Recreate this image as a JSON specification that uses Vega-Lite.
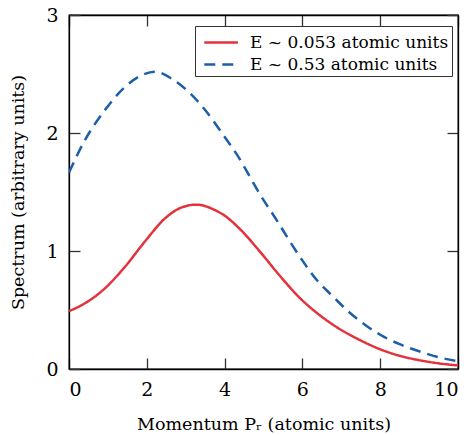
{
  "$schema": "https://vega.github.io/schema/vega-lite/v6.json",
  "width": 389,
  "height": 354,
  "autosize": {"type": "none"},
  "padding": {"left": 69, "top": 15, "right": 12, "bottom": 66},
  "background": "white",
  "config": {
    "font": "DejaVu Serif",
    "view": {"stroke": "black", "strokeWidth": 1.3},
    "axis": {"grid": false, "domainColor": "black", "domainWidth": 1.3, "tickColor": "#333", "tickWidth": 1.3, "tickSize": -11, "labelFont": "DejaVu Serif", "labelFontSize": 19, "labelColor": "black", "titleFont": "DejaVu Serif", "titleFontSize": 17.5, "titleFontWeight": "normal", "titleColor": "black", "labelPadding": 22}
  },
  "data": {"values": [
    {"p": 0, "s": 0.49, "series": "E ~ 0.053 atomic units"},
    {"p": 0.41, "s": 0.557, "series": "E ~ 0.053 atomic units"},
    {"p": 0.925, "s": 0.684, "series": "E ~ 0.053 atomic units"},
    {"p": 1.44, "s": 0.867, "series": "E ~ 0.053 atomic units"},
    {"p": 1.95, "s": 1.08, "series": "E ~ 0.053 atomic units"},
    {"p": 2.47, "s": 1.277, "series": "E ~ 0.053 atomic units"},
    {"p": 2.9, "s": 1.37, "series": "E ~ 0.053 atomic units"},
    {"p": 3.28, "s": 1.393, "series": "E ~ 0.053 atomic units"},
    {"p": 3.75, "s": 1.347, "series": "E ~ 0.053 atomic units"},
    {"p": 4.0, "s": 1.3, "series": "E ~ 0.053 atomic units"},
    {"p": 4.4, "s": 1.184, "series": "E ~ 0.053 atomic units"},
    {"p": 4.91, "s": 0.994, "series": "E ~ 0.053 atomic units"},
    {"p": 5.42, "s": 0.79, "series": "E ~ 0.053 atomic units"},
    {"p": 5.94, "s": 0.6, "series": "E ~ 0.053 atomic units"},
    {"p": 6.45, "s": 0.455, "series": "E ~ 0.053 atomic units"},
    {"p": 6.88, "s": 0.355, "series": "E ~ 0.053 atomic units"},
    {"p": 7.48, "s": 0.245, "series": "E ~ 0.053 atomic units"},
    {"p": 8, "s": 0.167, "series": "E ~ 0.053 atomic units"},
    {"p": 8.5, "s": 0.112, "series": "E ~ 0.053 atomic units"},
    {"p": 9, "s": 0.075, "series": "E ~ 0.053 atomic units"},
    {"p": 9.5, "s": 0.048, "series": "E ~ 0.053 atomic units"},
    {"p": 10, "s": 0.03, "series": "E ~ 0.053 atomic units"},
    {"p": 0, "s": 1.665, "series": "E ~ 0.53 atomic units"},
    {"p": 0.41, "s": 1.94, "series": "E ~ 0.53 atomic units"},
    {"p": 0.925, "s": 2.195, "series": "E ~ 0.53 atomic units"},
    {"p": 1.44, "s": 2.39, "series": "E ~ 0.53 atomic units"},
    {"p": 1.87, "s": 2.49, "series": "E ~ 0.53 atomic units"},
    {"p": 2.21, "s": 2.52, "series": "E ~ 0.53 atomic units"},
    {"p": 2.64, "s": 2.46, "series": "E ~ 0.53 atomic units"},
    {"p": 3.07, "s": 2.35, "series": "E ~ 0.53 atomic units"},
    {"p": 3.5, "s": 2.195, "series": "E ~ 0.53 atomic units"},
    {"p": 3.93, "s": 2.0, "series": "E ~ 0.53 atomic units"},
    {"p": 4.35, "s": 1.8, "series": "E ~ 0.53 atomic units"},
    {"p": 4.91, "s": 1.48, "series": "E ~ 0.53 atomic units"},
    {"p": 5.38, "s": 1.24, "series": "E ~ 0.53 atomic units"},
    {"p": 5.68, "s": 1.08, "series": "E ~ 0.53 atomic units"},
    {"p": 6.02, "s": 0.91, "series": "E ~ 0.53 atomic units"},
    {"p": 6.37, "s": 0.754, "series": "E ~ 0.53 atomic units"},
    {"p": 6.8, "s": 0.61, "series": "E ~ 0.53 atomic units"},
    {"p": 7.14, "s": 0.5, "series": "E ~ 0.53 atomic units"},
    {"p": 7.65, "s": 0.365, "series": "E ~ 0.53 atomic units"},
    {"p": 8, "s": 0.29, "series": "E ~ 0.53 atomic units"},
    {"p": 8.5, "s": 0.21, "series": "E ~ 0.53 atomic units"},
    {"p": 9, "s": 0.15, "series": "E ~ 0.53 atomic units"},
    {"p": 9.5, "s": 0.1, "series": "E ~ 0.53 atomic units"},
    {"p": 10, "s": 0.065, "series": "E ~ 0.53 atomic units"}
  ]},
  "layer": [
    {
      "mark": {"type": "line", "interpolate": "monotone", "strokeWidth": 2.5, "clip": true},
      "encoding": {
        "x": {"field": "p", "type": "quantitative", "scale": {"domain": [0, 10], "nice": false}, "axis": {"values": [0, 2, 4, 6, 8, 10], "title": "Momentum Pᵣ (atomic units)", "titlePadding": 16}},
        "y": {"field": "s", "type": "quantitative", "scale": {"domain": [0, 3], "nice": false}, "axis": {"values": [0, 1, 2, 3], "title": "Spectrum (arbitrary units)", "titlePadding": 18}},
        "color": {"field": "series", "type": "nominal", "scale": {"domain": ["E ~ 0.053 atomic units", "E ~ 0.53 atomic units"], "range": ["#e3323c", "#1c5ea8"]},
          "legend": {"title": null, "orient": "none", "legendX": 126, "legendY": 11, "strokeColor": "#333", "fillColor": "white", "padding": 3, "labelFontSize": 17, "labelFont": "DejaVu Serif", "labelColor": "black", "labelLimit": 400, "symbolType": "M-0.6,0H2.2", "symbolSize": 576, "symbolStrokeWidth": 2.5, "symbolFillColor": "transparent", "rowPadding": 0, "labelOffset": 25}},
        "strokeDash": {"field": "series", "type": "nominal", "scale": {"domain": ["E ~ 0.053 atomic units", "E ~ 0.53 atomic units"], "range": [[1, 0], [11, 7]]}, "legend": null}
      }
    },
    {
      "mark": {"type": "line", "opacity": 0},
      "encoding": {
        "x": {"field": "p", "type": "quantitative", "axis": {"orient": "top", "labels": false, "title": null, "values": [0, 2, 4, 6, 8, 10]}},
        "y": {"field": "s", "type": "quantitative", "axis": {"orient": "right", "labels": false, "title": null, "values": [0, 1, 2, 3]}}
      }
    }
  ],
  "resolve": {"axis": {"x": "independent", "y": "independent"}}
}
